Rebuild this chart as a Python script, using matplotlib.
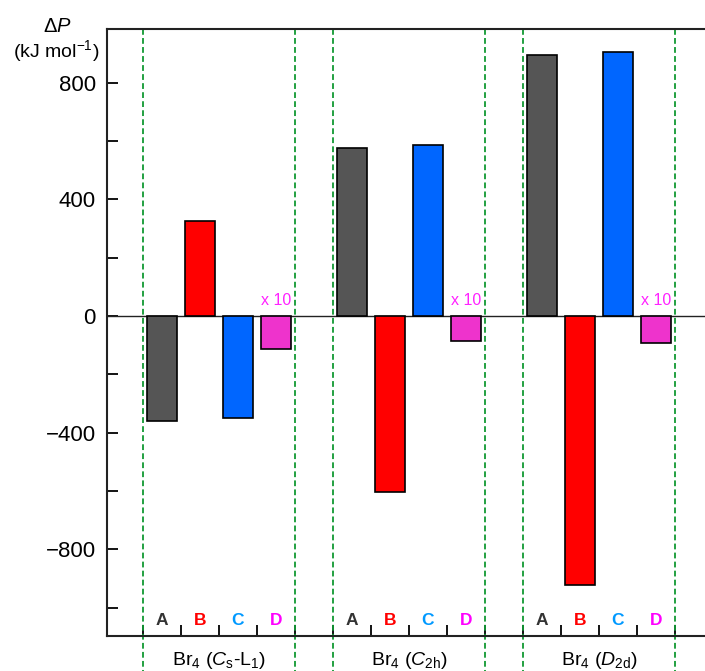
import matplotlib
matplotlib.use("Agg")
import matplotlib.pyplot as plt
from matplotlib.ticker import MultipleLocator, NullFormatter, FixedLocator

plt.rcParams['font.family'] = ['Liberation Sans', 'DejaVu Sans']
plt.rcParams['mathtext.fontset'] = 'custom'
plt.rcParams['mathtext.rm'] = 'Liberation Sans'
plt.rcParams['mathtext.it'] = 'Liberation Sans:italic'
plt.rcParams['mathtext.bf'] = 'Liberation Sans:bold'

# ---- data ----
group_labels = [r'Br$_4$ ($\mathit{C}_\mathrm{s}$-L$_1$)',
                r'Br$_4$ ($\mathit{C}_\mathrm{2h}$)',
                r'Br$_4$ ($\mathit{D}_\mathrm{2d}$)']
categories = ['A', 'B', 'C', 'D']
values_A = [-360, 575, 894]
values_B = [326, -604, -923]
values_C = [-350, 586, 904]
values_D = [-113, -85, -94]   # shown x 10
scale_note = 'x 10'

bar_colors = ['#555555', '#FF0000', '#0066FF', '#EE33CC']
label_colors = ['#333333', '#FF0000', '#0099FF', '#FF00FF']

W, H = 705, 671
fig = plt.figure(figsize=(W / 100, H / 100), dpi=100)
left_px, right_px, top_px, bot_px = 107, 705, 29, 636
ax = fig.add_axes([left_px / W, 1 - bot_px / H, (right_px - left_px) / W, (bot_px - top_px) / H])

# x geometry: 1 unit = 38 px, x=0 at pixel 143
unit = 38.0
x0px = 143.0
ax.set_xlim((left_px - x0px) / unit, (right_px - x0px) / unit)
ax.set_ylim(-1097, 984)

series = [values_A, values_B, values_C, values_D]
group_gap = 5
for g in range(len(group_labels)):
    base = g * group_gap
    for c, vals in enumerate(series):
        ax.bar(base + c + 0.5, vals[g], width=0.8, color=bar_colors[c],
               edgecolor='black', linewidth=1.2, zorder=3)
        ax.text(base + c + 0.5, 0.018, categories[c], transform=ax.get_xaxis_transform(),
                ha='center', va='baseline', fontsize=12.5, fontweight='bold',
                color=label_colors[c])
    ax.text(base + 3.5, 28, scale_note, ha='center', va='bottom', fontsize=11.5,
            color='#FF22FF', zorder=4)
    ax.text(base + 2, -0.047, group_labels[g], transform=ax.get_xaxis_transform(),
            ha='center', va='baseline', fontsize=14, color='black', clip_on=False)
    for xb in (base, base + 4):
        ax.plot([xb, xb], [984, -1230], color='#119933', lw=1.3,
                linestyle=(0, (3.2, 1.8)), clip_on=False, zorder=2)

ax.axhline(0, color='#222222', lw=1.0, zorder=2)

# spines
for s in ['left', 'top', 'bottom']:
    ax.spines[s].set_linewidth(1.5)
    ax.spines[s].set_color('#222222')
ax.spines['right'].set_visible(False)

# ticks
ax.yaxis.set_major_locator(MultipleLocator(400))
ax.yaxis.set_minor_locator(MultipleLocator(200))
ax.tick_params(axis='y', which='both', direction='in', length=8, width=1.3,
               labelsize=16, pad=8, right=False)
xt = [g * group_gap + i for g in range(3) for i in range(5)]
ax.xaxis.set_major_locator(FixedLocator(xt))
ax.xaxis.set_major_formatter(NullFormatter())
ax.tick_params(axis='x', which='both', direction='in', length=8, width=1.3, top=False)

fig.text(57 / W, 1 - 32 / H, r'Δ$\mathit{P}$', ha='center', va='baseline', fontsize=14.5)
fig.text(56 / W, 1 - 57 / H, r'(kJ mol$^{-1}$)', ha='center', va='baseline', fontsize=14)

fig.savefig('out.png', dpi=100)
